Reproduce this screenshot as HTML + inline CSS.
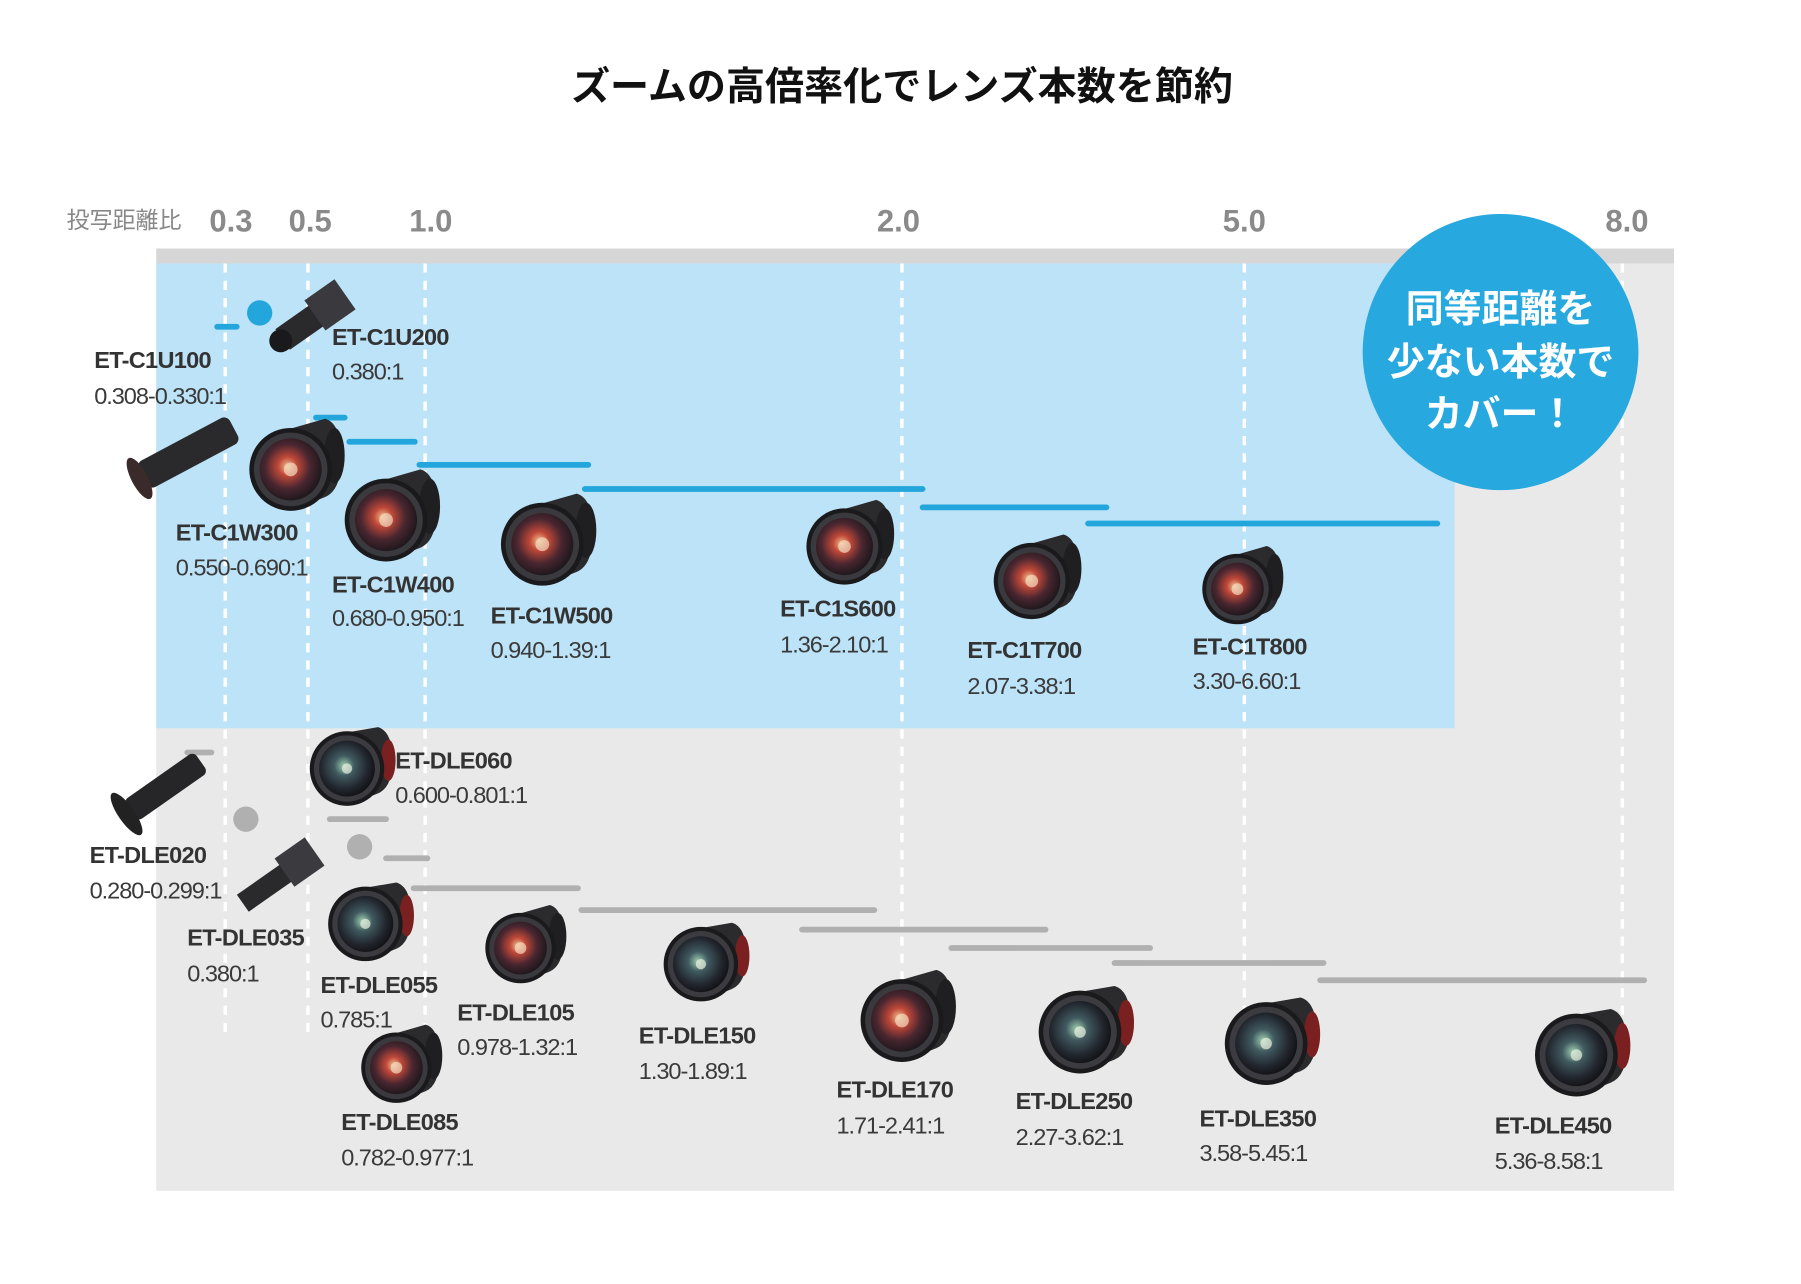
<!DOCTYPE html>
<html><head><meta charset="utf-8"><style>
html,body{margin:0;padding:0;background:#fff;}
svg{display:block;}
text{font-family:"Liberation Sans","Noto Sans CJK JP",sans-serif;}
.n{font-weight:bold;font-size:20.5px;fill:#333;letter-spacing:-0.6px;}
.r{font-size:20.5px;fill:#3a3a3a;letter-spacing:-0.9px;}
.ax{font-weight:bold;font-size:27px;fill:#8a8a8a;}
</style></head><body>
<svg width="1801" height="1284" viewBox="0 0 1567.5 1116" preserveAspectRatio="none" xmlns="http://www.w3.org/2000/svg">
<defs>
<radialGradient id="gl" cx="0.45" cy="0.45" r="0.6">
<stop offset="0" stop-color="#f0c090"/><stop offset="0.25" stop-color="#c04838"/><stop offset="0.6" stop-color="#4a2630"/><stop offset="1" stop-color="#151518"/>
</radialGradient>
<radialGradient id="gl2" cx="0.45" cy="0.45" r="0.6">
<stop offset="0" stop-color="#a0d0b0"/><stop offset="0.3" stop-color="#405a60"/><stop offset="0.7" stop-color="#22262e"/><stop offset="1" stop-color="#0e0e10"/>
</radialGradient>
<g id="lens">
<path d="M-5,-34 L30,-44 Q44,-40 44,-10 Q44,18 30,24 L5,34 Z" fill="#2b2b2e"/>
<ellipse cx="38" cy="-12" rx="9" ry="24" fill="#1f1f22"/>
<circle r="36" fill="#1a1a1c"/>
<circle r="32" fill="#3a3a3e"/>
<circle r="27" fill="url(#gl)"/>
<circle r="6" fill="#f3dcc0" opacity="0.7"/>
</g>
<g id="lens2">
<path d="M-5,-34 L30,-40 Q44,-36 44,-8 Q44,18 30,24 L5,34 Z" fill="#2b2b2e"/>
<ellipse cx="40" cy="-8" rx="7" ry="20" fill="#7a2020"/>
<circle r="36" fill="#1a1a1c"/>
<circle r="32" fill="#3c3c40"/>
<circle r="27" fill="url(#gl2)"/>
<circle r="5" fill="#e8f0e0" opacity="0.7"/>
</g>
</defs>

<text x="785" y="87" text-anchor="middle" font-weight="bold" font-size="34" fill="#111">ズームの高倍率化でレンズ本数を節約</text>

<text x="58" y="198" font-size="20" fill="#888">投写距離比</text>
<text class="ax" x="201" y="201" text-anchor="middle">0.3</text>
<text class="ax" x="270" y="201" text-anchor="middle">0.5</text>
<text class="ax" x="375" y="201" text-anchor="middle">1.0</text>
<text class="ax" x="782" y="201" text-anchor="middle">2.0</text>
<text class="ax" x="1083" y="201" text-anchor="middle">5.0</text>
<text class="ax" x="1416" y="201" text-anchor="middle">8.0</text>

<rect x="136" y="216" width="1321" height="13" fill="#d6d6d6"/>
<rect x="136" y="229" width="1321" height="806" fill="#e9e9e9"/>
<rect x="136" y="229" width="1130" height="404" fill="#bce3f7"/>

<g stroke="#fff" stroke-width="3" stroke-dasharray="8,7">
<line x1="196" y1="229" x2="196" y2="897"/>
<line x1="268" y1="229" x2="268" y2="897"/>
<line x1="370" y1="229" x2="370" y2="897"/>
<line x1="785" y1="229" x2="785" y2="897"/>
<line x1="1083" y1="229" x2="1083" y2="897"/>
<line x1="1412" y1="229" x2="1412" y2="897"/>
</g>

<g stroke="#22a6dc" stroke-width="5" stroke-linecap="round">
<line x1="189" y1="284" x2="206" y2="284"/>
<line x1="275" y1="363" x2="300" y2="363"/>
<line x1="304" y1="384" x2="361" y2="384"/>
<line x1="365" y1="404" x2="512" y2="404"/>
<line x1="509" y1="425" x2="803" y2="425"/>
<line x1="803" y1="441" x2="963" y2="441"/>
<line x1="947" y1="455" x2="1251" y2="455"/>
</g>
<circle cx="226" cy="272" r="11" fill="#22a6dc"/>

<g stroke="#b0b0b0" stroke-width="5" stroke-linecap="round">
<line x1="163" y1="654" x2="184" y2="654"/>
<line x1="287" y1="712" x2="336" y2="712"/>
<line x1="336" y1="746" x2="372" y2="746"/>
<line x1="360" y1="772" x2="503" y2="772"/>
<line x1="506" y1="791" x2="761" y2="791"/>
<line x1="698" y1="808" x2="910" y2="808"/>
<line x1="828" y1="824" x2="1001" y2="824"/>
<line x1="970" y1="837" x2="1152" y2="837"/>
<line x1="1149" y1="852" x2="1431" y2="852"/>
</g>
<circle cx="214" cy="712" r="11" fill="#b0b0b0"/>
<circle cx="313" cy="736" r="11" fill="#b0b0b0"/>

<circle cx="1306" cy="306" r="120" fill="#27a8df"/>
<g font-weight="bold" font-size="33" fill="#fff" text-anchor="middle">
<text x="1306" y="280">同等距離を</text>
<text x="1306" y="326">少ない本数で</text>
<text x="1306" y="371">カバー！</text>
</g>

<g transform="translate(270,277) rotate(-35)">
<rect x="-30" y="-10" width="40" height="22" fill="#2a2a2d"/>
<rect x="5" y="-16" width="32" height="32" fill="#3a3a3e"/>
<circle cx="-32" cy="1" r="10" fill="#1a1a1c"/>
</g>
<g transform="translate(155,398) rotate(-28)">
<rect x="-35" y="-13" width="90" height="26" rx="6" fill="#2a2a2d"/>
<ellipse cx="-38" cy="0" rx="7" ry="20" fill="#3a2a2a"/>
</g>
<g transform="translate(138,688) rotate(-35)">
<rect x="-30" y="-11" width="75" height="22" rx="5" fill="#262629"/>
<ellipse cx="-34" cy="0" rx="7" ry="22" fill="#222"/>
</g>
<g transform="translate(240,765) rotate(-35)">
<rect x="-35" y="-9" width="50" height="18" fill="#2a2a2d"/>
<rect x="10" y="-16" width="32" height="30" fill="#3b3b3f"/>
</g>

<use href="#lens" transform="translate(253,408)"/>
<use href="#lens" transform="translate(336,452)"/>
<use href="#lens" transform="translate(472,473)"/>
<use href="#lens" transform="translate(735,475) scale(0.92)"/>
<use href="#lens" transform="translate(898,505) scale(0.92)"/>
<use href="#lens" transform="translate(1077,512) scale(0.85)"/>

<use href="#lens2" transform="translate(302,668) scale(0.9)"/>
<use href="#lens2" transform="translate(318,803) scale(0.9)"/>
<use href="#lens" transform="translate(453,824) scale(0.85)"/>
<use href="#lens" transform="translate(345,928) scale(0.85)"/>
<use href="#lens2" transform="translate(610,838) scale(0.9)"/>
<use href="#lens" transform="translate(785,887)"/>
<use href="#lens2" transform="translate(940,897)"/>
<use href="#lens2" transform="translate(1102,907)"/>
<use href="#lens2" transform="translate(1372,917)"/>

<text class="n" x="82" y="320">ET-C1U100</text><text class="r" x="82" y="351">0.308-0.330:1</text>
<text class="n" x="289" y="300">ET-C1U200</text><text class="r" x="289" y="330">0.380:1</text>
<text class="n" x="153" y="470">ET-C1W300</text><text class="r" x="153" y="500">0.550-0.690:1</text>
<text class="n" x="289" y="515">ET-C1W400</text><text class="r" x="289" y="544">0.680-0.950:1</text>
<text class="n" x="427" y="542">ET-C1W500</text><text class="r" x="427" y="572">0.940-1.39:1</text>
<text class="n" x="679" y="536">ET-C1S600</text><text class="r" x="679" y="567">1.36-2.10:1</text>
<text class="n" x="842" y="572">ET-C1T700</text><text class="r" x="842" y="603">2.07-3.38:1</text>
<text class="n" x="1038" y="569">ET-C1T800</text><text class="r" x="1038" y="599">3.30-6.60:1</text>

<text class="n" x="344" y="668">ET-DLE060</text><text class="r" x="344" y="698">0.600-0.801:1</text>
<text class="n" x="78" y="750">ET-DLE020</text><text class="r" x="78" y="781">0.280-0.299:1</text>
<text class="n" x="163" y="822">ET-DLE035</text><text class="r" x="163" y="853">0.380:1</text>
<text class="n" x="279" y="863">ET-DLE055</text><text class="r" x="279" y="893">0.785:1</text>
<text class="n" x="398" y="887">ET-DLE105</text><text class="r" x="398" y="917">0.978-1.32:1</text>
<text class="n" x="556" y="907">ET-DLE150</text><text class="r" x="556" y="938">1.30-1.89:1</text>
<text class="n" x="297" y="982">ET-DLE085</text><text class="r" x="297" y="1013">0.782-0.977:1</text>
<text class="n" x="728" y="954">ET-DLE170</text><text class="r" x="728" y="985">1.71-2.41:1</text>
<text class="n" x="884" y="964">ET-DLE250</text><text class="r" x="884" y="995">2.27-3.62:1</text>
<text class="n" x="1044" y="979">ET-DLE350</text><text class="r" x="1044" y="1009">3.58-5.45:1</text>
<text class="n" x="1301" y="985">ET-DLE450</text><text class="r" x="1301" y="1016">5.36-8.58:1</text>
</svg>
</body></html>
